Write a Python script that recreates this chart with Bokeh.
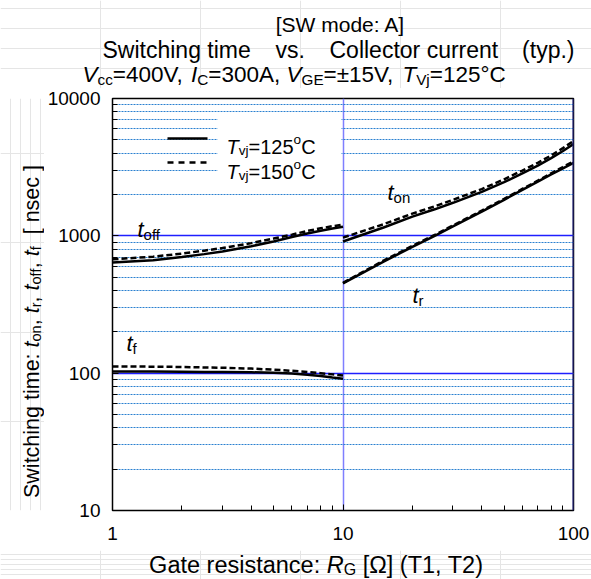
import math
from bokeh.plotting import figure
from bokeh.layouts import column, row
from bokeh.models import Label, Arrow, BoxAnnotation, Span, PrintfTickFormatter, Range1d
from bokeh.embed import file_html
from bokeh.resources import INLINE

# ---------------- data ----------------
rg_low = [1, 1.5, 2, 2.5, 3, 4, 5, 6, 7, 8, 9, 10]
toff_125 = [640, 665, 700, 736, 770, 840, 910, 980, 1040, 1090, 1130, 1165]
toff_150 = [675, 705, 742, 780, 815, 885, 955, 1020, 1085, 1135, 1175, 1205]
tf_125 = [103, 103, 102.5, 102, 102, 101.5, 100.5, 99.5, 97.5, 95.5, 93, 91]
tf_150 = [112, 111.5, 111, 110, 109.5, 108, 106, 104, 102, 100, 98, 96]

rg_high = [10, 15, 20, 25, 30, 40, 50, 60, 70, 80, 90, 100]
ton_125 = [910, 1150, 1380, 1560, 1740, 2090, 2460, 2850, 3250, 3680, 4150, 4650]
ton_150 = [970, 1215, 1450, 1640, 1830, 2190, 2580, 2990, 3400, 3850, 4350, 4900]
tr_125 = [450, 650, 830, 1000, 1170, 1500, 1830, 2160, 2480, 2800, 3100, 3400]
tr_150 = [455, 660, 845, 1015, 1190, 1525, 1860, 2195, 2520, 2850, 3170, 3490]

x_range = (1, 100)
y_range = (10, 10000)

FONT = "Liberation Sans"

# Arial / Liberation Sans advance widths (per 1000 em)
AW = {' ': 278, '!': 278, '(': 333, ')': 333, ',': 278, '-': 333, '.': 278, '/': 278,
      ':': 278, '=': 584, '[': 278, ']': 278, '°': 400, '±': 584, 'Ω': 768,
      'A': 667, 'B': 667, 'C': 722, 'D': 722, 'E': 667, 'F': 611, 'G': 778, 'H': 722,
      'I': 278, 'J': 500, 'K': 667, 'L': 556, 'M': 833, 'N': 722, 'O': 778, 'P': 667,
      'Q': 778, 'R': 722, 'S': 667, 'T': 611, 'U': 722, 'V': 667, 'W': 944, 'X': 667,
      'Y': 667, 'Z': 611,
      'a': 556, 'b': 556, 'c': 500, 'd': 556, 'e': 556, 'f': 278, 'g': 556, 'h': 556,
      'i': 222, 'j': 222, 'k': 500, 'l': 222, 'm': 833, 'n': 556, 'o': 556, 'p': 556,
      'q': 556, 'r': 333, 's': 500, 't': 278, 'u': 556, 'v': 500, 'w': 722, 'x': 500,
      'y': 500, 'z': 500}
for d in "0123456789":
    AW[d] = 556


def text_width(s, size):
    return sum(AW.get(c, 556) for c in s) * size / 1000.0


# ---------------- page layout (page pixels) ----------------
PAGE_W, PAGE_H = 591, 579
FRAME_L, FRAME_T, FRAME_W, FRAME_H = 108, 98, 461, 412
B_TOP_BORDER, B_BOTTOM_BORDER = 10, 40
T_H = FRAME_T - B_TOP_BORDER              # title strip height
YF_W = 44                                  # strip holding the y-axis title
B_H = B_TOP_BORDER + FRAME_H + B_BOTTOM_BORDER
X_H = PAGE_H - T_H - B_H                   # strip holding the x-axis title


def blank(w, h, top=0, bottom=0):
    f = figure(width=w, height=h, x_range=Range1d(0, w), y_range=Range1d(0, h),
               output_backend="svg", toolbar_location=None, x_axis_location=None,
               y_axis_location=None, min_border=0, min_border_top=top,
               min_border_bottom=bottom)
    f.outline_line_color = None
    f.background_fill_color = "white"
    f.border_fill_color = "white"
    return f


def rich_text(fig, origin, runs, X, Y, size, align="left", angle=0.0):
    """runs: list of (text, style), style in n / i / sub / sup.
    X, Y: page pixels; origin: page pixels of the figure frame's bottom-left."""
    ox, oy = origin

    def fs(st):
        return size * 0.68 if st in ("sub", "sup") else size
    total = sum(text_width(t, fs(st)) for t, st in runs)
    pos = {"left": 0.0, "center": -total / 2.0, "right": -total}[align]
    x0, y0 = X - ox, oy - Y
    for t, st in runs:
        f = fs(st)
        lead = len(t) - len(t.lstrip())
        off = text_width(t[:lead], f)
        shift = -0.22 * size if st == "sub" else (0.36 * size if st == "sup" else 0.0)
        if t.strip():
            if angle == 0:
                lx, ly = x0 + pos + off, y0 + shift
            else:
                lx, ly = x0 - shift, y0 + pos + off
            fig.add_layout(Label(x=lx, y=ly, x_units="screen", y_units="screen",
                                 text=t.strip(), text_font=FONT, text_font_size=f"{f:.1f}px",
                                 text_font_style="italic" if st == "i" else "normal",
                                 text_align="left", text_baseline="alphabetic",
                                 angle=angle, text_color="black"))
        pos += text_width(t, f)


# ---------------- main plot ----------------
p = figure(width=PAGE_W - YF_W, height=B_H, x_axis_type="log", y_axis_type="log",
           x_range=x_range, y_range=y_range, output_backend="svg",
           toolbar_location=None, frame_width=FRAME_W, frame_height=FRAME_H,
           min_border_left=FRAME_L - YF_W, min_border_top=B_TOP_BORDER,
           min_border_right=PAGE_W - FRAME_L - FRAME_W, min_border_bottom=B_BOTTOM_BORDER)
p.background_fill_color = "white"
p.border_fill_color = "white"
p.outline_line_color = "black"
p.outline_line_width = 1.5

p.ygrid.grid_line_color = "#1f1fff"
p.ygrid.grid_line_width = 1.4
p.ygrid.minor_grid_line_color = "#2a80d0"
p.ygrid.minor_grid_line_dash = "2 1"
p.ygrid.minor_grid_line_width = 1
p.xgrid.grid_line_color = "#7f7fff"
p.xgrid.grid_line_width = 1.5

for ax in (p.xaxis[0], p.yaxis[0]):
    ax.major_label_text_font = FONT
    ax.major_label_text_font_size = "19px"
    ax.major_label_text_color = "black"
    ax.axis_line_color = "black"
    ax.major_tick_in = 6
    ax.major_tick_out = 0
    ax.minor_tick_in = 5
    ax.minor_tick_out = 0
    ax.major_tick_line_color = "black"
    ax.minor_tick_line_color = "black"
    ax.formatter = PrintfTickFormatter(format="%d")
p.yaxis[0].major_label_standoff = 12
p.xaxis[0].major_label_standoff = 16

p.add_layout(Span(location=100, dimension="height", line_color="#2a2a90", line_width=2))

p.line(rg_low, toff_125, line_color="black", line_width=2.5)
p.line(rg_low, toff_150, line_color="black", line_width=2.5, line_dash="6 3")
p.line(rg_low, tf_125, line_color="black", line_width=2.5)
p.line(rg_low, tf_150, line_color="black", line_width=2.5, line_dash="6 3")
p.line(rg_high, ton_125, line_color="black", line_width=2.5)
p.line(rg_high, ton_150, line_color="black", line_width=2.5, line_dash="6 3")
p.line(rg_high, tr_125, line_color="black", line_width=2.5)
p.line(rg_high, tr_150, line_color="black", line_width=2.5, line_dash="6 3")

B_ORIGIN = (FRAME_L, FRAME_T + FRAME_H)

# curve labels
CL = 22
rich_text(p, B_ORIGIN, [("t", "i"), ("off", "sub")], 133, 229, CL)
rich_text(p, B_ORIGIN, [("t", "i"), ("f", "sub")], 122, 343, CL)
rich_text(p, B_ORIGIN, [("t", "i"), ("on", "sub")], 383, 192, CL)
rich_text(p, B_ORIGIN, [("t", "i"), ("r", "sub")], 408, 295, CL)

# legend (white patch behind the texts, line samples, rich labels)
p.add_layout(BoxAnnotation(left=213 - FRAME_L, right=337 - FRAME_L,
                           top=B_ORIGIN[1] - 117, bottom=B_ORIGIN[1] - 187,
                           left_units="screen", right_units="screen", top_units="screen",
                           bottom_units="screen", fill_color="white", fill_alpha=1.0,
                           line_alpha=0.0))
p.add_layout(Arrow(x_start=163 - FRAME_L, y_start=B_ORIGIN[1] - 138, x_end=203 - FRAME_L,
                   y_end=B_ORIGIN[1] - 138, start_units="screen", end_units="screen",
                   end=None, line_color="black", line_width=2.5))
p.add_layout(Arrow(x_start=163 - FRAME_L, y_start=B_ORIGIN[1] - 162, x_end=203 - FRAME_L,
                   y_end=B_ORIGIN[1] - 162, start_units="screen", end_units="screen",
                   end=None, line_color="black", line_width=2.5, line_dash="6 5"))
rich_text(p, B_ORIGIN, [("T", "i"), ("vj", "sub"), ("=125", "n"), ("o", "sup"), ("C", "n")],
          222, 146, 20)
rich_text(p, B_ORIGIN, [("T", "i"), ("vj", "sub"), ("=150", "n"), ("o", "sup"), ("C", "n")],
          222, 171, 20)

# ---------------- title strip ----------------
tfig = blank(PAGE_W, T_H)
T_ORIGIN = (0, T_H)
rich_text(tfig, T_ORIGIN, [("[SW mode: A]", "n")], 340, 24, 21, align="center")
# second line: words placed one by one (wide spacing in the original)
T2 = 23
rich_text(tfig, T_ORIGIN, [("Switching time", "n")], 102, 49, T2)
rich_text(tfig, T_ORIGIN, [("vs.", "n")], 275, 49, T2)
rich_text(tfig, T_ORIGIN, [("Collector current", "n")], 329, 49, T2)
rich_text(tfig, T_ORIGIN, [("(typ.)", "n")], 574, 49, T2, align="right")
rich_text(tfig, T_ORIGIN,
          [("V", "i"), ("cc", "sub"), ("=400V, ", "n"), ("I", "i"), ("C", "sub"),
           ("=300A, ", "n"), ("V", "i"), ("GE", "sub"), ("=±15V, ", "n"), ("T", "i"),
           ("Vj", "sub"), ("=125°C", "n")], 82, 74, 22.5, align="left")

# ---------------- y-axis title strip (frame aligned with the main frame) ----
yfig = blank(YF_W, B_H, top=B_TOP_BORDER, bottom=B_BOTTOM_BORDER)
Y_ORIGIN = (0, FRAME_T + FRAME_H)
rich_text(yfig, Y_ORIGIN,
          [("Switching time: ", "n"), ("t", "i"), ("on", "sub"), (", ", "n"), ("t", "i"),
           ("r", "sub"), (", ", "n"), ("t", "i"), ("off", "sub"), (", ", "n"), ("t", "i"),
           ("f", "sub"), ("  [ nsec ]", "n")], 31, 331, 21.5, align="center", angle=math.pi / 2)

# ---------------- x-axis title strip ----------------
xfig = blank(PAGE_W, X_H)
X_ORIGIN = (0, PAGE_H)
rich_text(xfig, X_ORIGIN, [("Gate resistance: ", "n"), ("R", "i"), ("G", "sub"),
                           (" [Ω] (T1, T2)", "n")], 316, 564, 23.5, align="center")

layout = column(tfig, row(yfig, p), xfig)
open("out.html", "w").write(file_html(layout, INLINE))
